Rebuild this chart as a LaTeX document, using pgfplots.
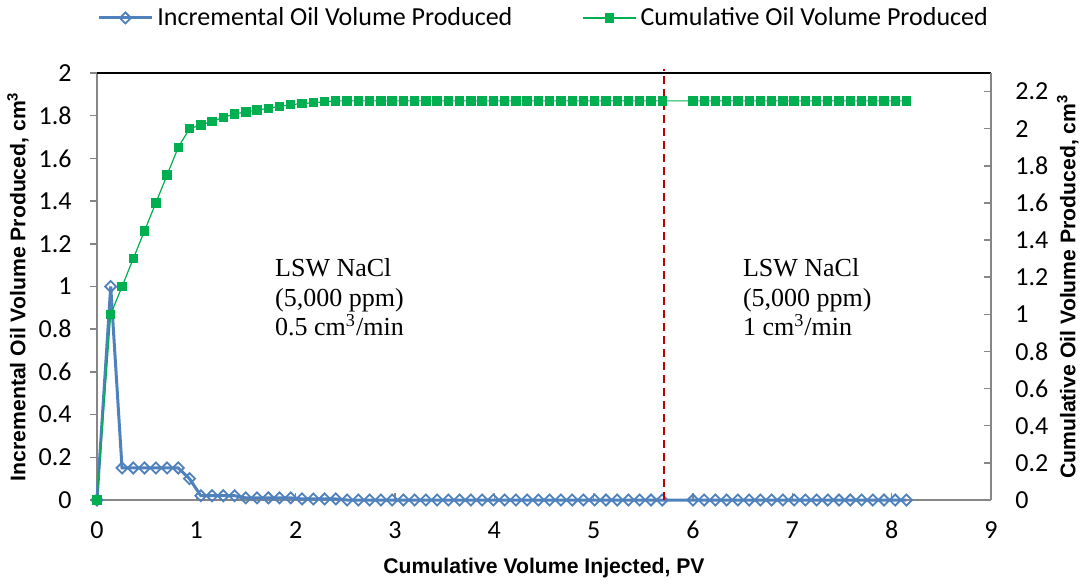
\documentclass[border=0pt]{standalone}
\usepackage{pgfplots}
\pgfplotsset{compat=1.18}
\usepackage{pgfplotstable}
\usepackage{fontspec}
\setmainfont{Carlito}
\newfontfamily\arialfont{Liberation Sans}
\newfontfamily\timesfont{Liberation Serif}
\definecolor{incblue}{HTML}{4F81BD}
\definecolor{cumgreen}{HTML}{00B050}
\definecolor{dashred}{HTML}{C00000}
\definecolor{axgray}{HTML}{868686}

\pgfplotstableread{
x inc cum
0 0 0
0.138 1.00 1.00
0.252 0.15 1.15
0.365 0.15 1.30
0.478 0.15 1.45
0.592 0.15 1.60
0.705 0.15 1.75
0.818 0.15 1.90
0.931 0.10 2.00
1.045 0.02 2.02
1.158 0.02 2.04
1.271 0.02 2.06
1.385 0.02 2.08
1.498 0.01 2.09
1.611 0.01 2.10
1.725 0.01 2.11
1.838 0.01 2.12
1.951 0.01 2.13
2.064 0.005 2.135
2.178 0.005 2.14
2.291 0.005 2.145
2.404 0.005 2.15
2.518 0 2.15
2.631 0 2.15
2.744 0 2.15
2.858 0 2.15
2.971 0 2.15
3.084 0 2.15
3.197 0 2.15
3.311 0 2.15
3.424 0 2.15
3.537 0 2.15
3.651 0 2.15
3.764 0 2.15
3.877 0 2.15
3.991 0 2.15
4.104 0 2.15
4.217 0 2.15
4.330 0 2.15
4.444 0 2.15
4.557 0 2.15
4.670 0 2.15
4.784 0 2.15
4.897 0 2.15
5.010 0 2.15
5.124 0 2.15
5.237 0 2.15
5.350 0 2.15
5.463 0 2.15
5.577 0 2.15
5.690 0 2.15
6.000 0 2.15
6.113 0 2.15
6.226 0 2.15
6.339 0 2.15
6.452 0 2.15
6.566 0 2.15
6.679 0 2.15
6.792 0 2.15
6.905 0 2.15
7.018 0 2.15
7.131 0 2.15
7.244 0 2.15
7.357 0 2.15
7.470 0 2.15
7.583 0 2.15
7.697 0 2.15
7.810 0 2.15
7.923 0 2.15
8.036 0 2.15
8.149 0 2.15
}\datatable

\newcommand{\labfont}{\arialfont\bfseries\fontsize{10.6}{12}\selectfont}

\pgfplotsset{
  common/.style={
    scale only axis, width=447pt, height=213.5pt,
    xmin=0, xmax=9, clip=false,
    /pgf/number format/assume math mode=true,
    tick label style={font=\fontsize{13}{13}\selectfont},
    axis line style={axgray, line width=0.75pt},
    major tick style={axgray, line width=0.75pt},
    major tick length=3.5pt,
    tick align=inside,
  },
  incstyle/.style={incblue, line width=1.5pt, mark=square, mark size=1.95pt,
    mark options={rotate=45, fill=white, line width=0.9pt, solid}},
  cumstyle/.style={cumgreen, line width=0.6pt, mark=square*, mark size=2.05pt,
    mark options={solid}},
}

\begin{document}
\begin{tikzpicture}
\begin{axis}[common,
  ymin=0, ymax=2,
  xtick={0,1,2,3,4,5,6,7,8,9},
  ytick={0,0.2,0.4,0.6,0.8,1,1.2,1.4,1.6,1.8,2},
  axis x line*=bottom, axis y line*=left,
  major y tick style={xshift=-3.5pt},
  xticklabel style={anchor=center, inner sep=0pt, yshift=-15pt},
  yticklabel style={anchor=east, inner sep=0pt, xshift=-12.5pt},
  xlabel={Cumulative Volume Injected, PV},
  ylabel={Incremental Oil Volume Produced, cm\textsuperscript{3}},
  every axis x label/.style={at={(axis description cs:0.5,-0.159)}, anchor=center, font=\labfont},
  every axis y label/.style={at={(axis description cs:-0.0884,0.5)}, anchor=center, rotate=90, font=\labfont},
]
\addplot[incstyle] table[x=x, y=inc]{\datatable};
\node[anchor=north west, align=left, inner sep=0pt, font=\timesfont\fontsize{13}{14.75}\selectfont]
  at (axis cs:1.79,1.133) {LSW NaCl\\(5,000 ppm)\\0.5 cm\textsuperscript{3}/min};
\node[anchor=north west, align=left, inner sep=0pt, font=\timesfont\fontsize{13}{14.75}\selectfont]
  at (axis cs:6.50,1.133) {LSW NaCl\\(5,000 ppm)\\1 cm\textsuperscript{3}/min};
\end{axis}
\begin{axis}[common,
  ymin=0, ymax=2.3,
  xtick=\empty,
  ytick={0,0.2,0.4,0.6,0.8,1,1.2,1.4,1.6,1.8,2,2.2},
  axis x line*=top, axis y line*=right,
  x axis line style={black},
  yticklabel style={anchor=west, inner sep=0pt, xshift=12pt},
  ylabel={Cumulative Oil Volume Produced, cm\textsuperscript{3}},
  every axis y label/.style={at={(axis description cs:1.086,0.5)}, anchor=center, rotate=90, font=\labfont},
  legend columns=2,
  legend style={at={(0,1.129)}, anchor=west, draw=none, fill=none, inner sep=0pt,
    font=\fontsize{13}{13}\selectfont,
    /tikz/every even column/.append style={column sep=33pt}},
  legend image code/.code={\draw[mark repeat=2, mark phase=2, #1] plot coordinates {(0pt,0pt) (13.25pt,0pt) (26.5pt,0pt)};},
]
\addlegendimage{incstyle}
\addlegendentry{Incremental Oil Volume Produced}
\addplot[cumstyle] table[x=x, y=cum]{\datatable};
\addlegendentry{Cumulative Oil Volume Produced}
\addplot[dashred, line width=1pt, dash pattern=on 4pt off 2.5pt, forget plot] coordinates {(5.71,0) (5.71,2.32)};
\end{axis}
\pgfresetboundingbox
\path[use as bounding box] (-48.5pt,-43pt) rectangle (494.5pt,250pt);
\end{tikzpicture}
\end{document}
